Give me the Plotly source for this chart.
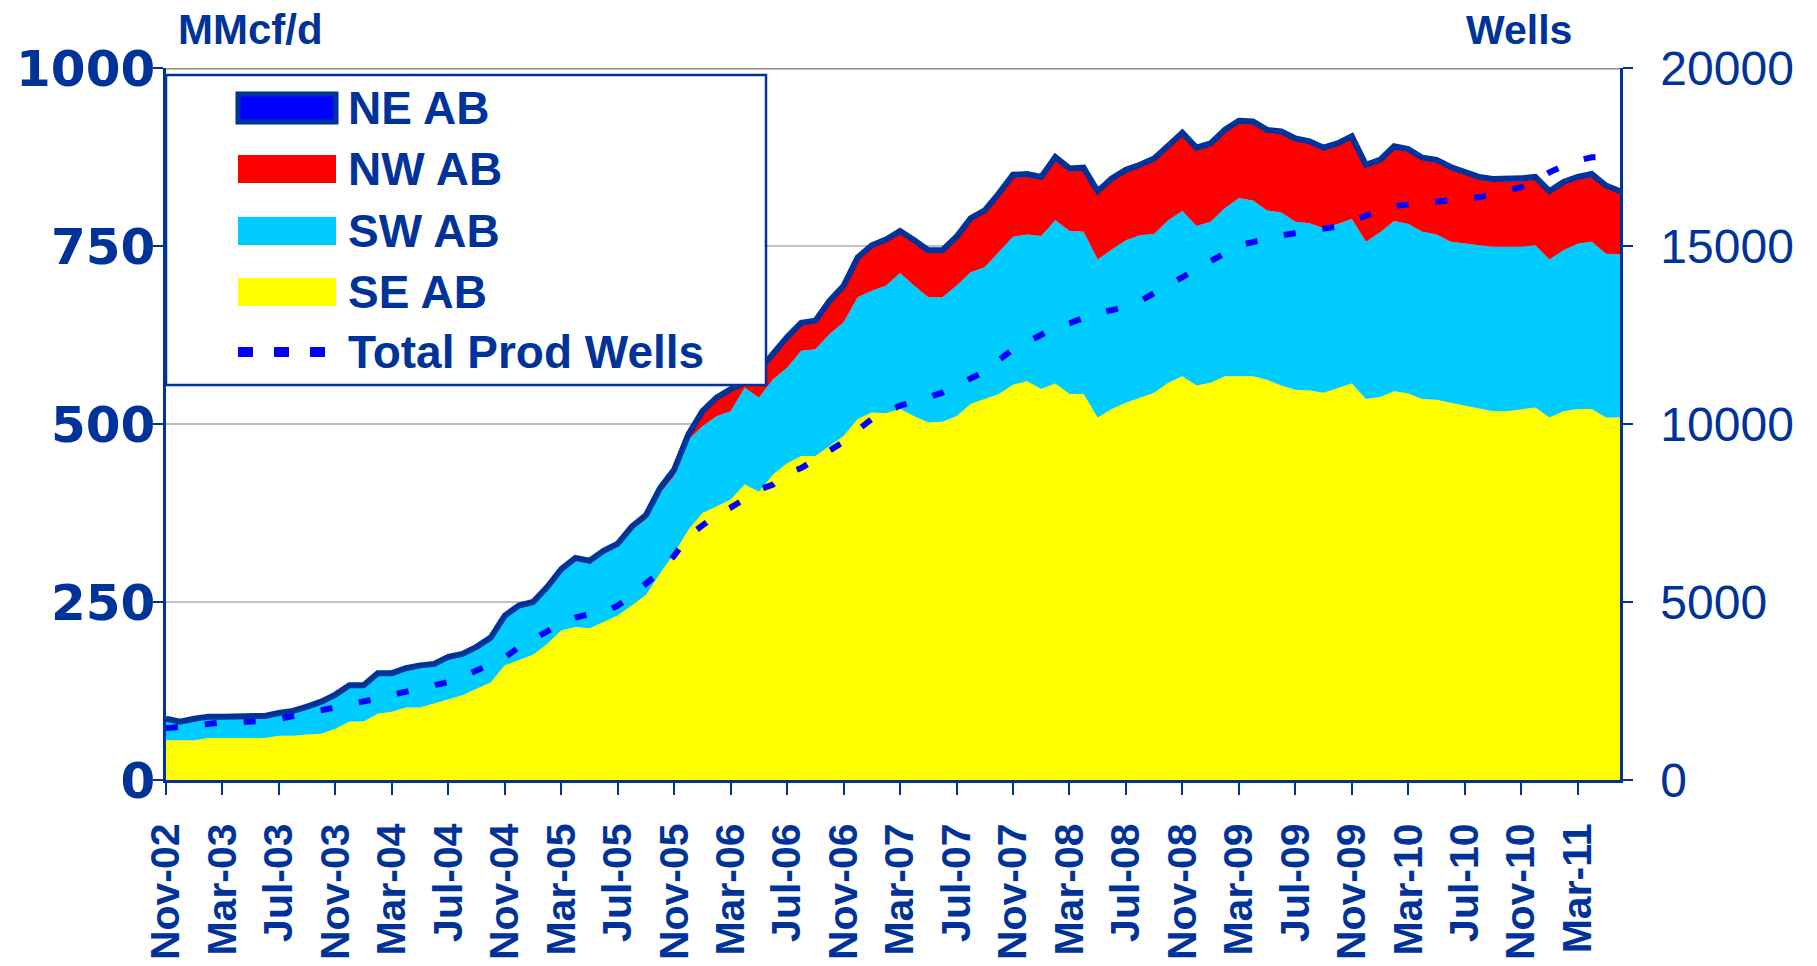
import pandas as pd
import plotly.graph_objects as go

# Monthly categories, Nov-2002 through Jun-2011
months = list(pd.period_range("2002-11", periods=104, freq="M").strftime("%b-%y"))
tick_labels = months[::4]

# Gas production by region, MMcf/d (stacked bottom to top: SE, SW, NW, NE)
se_ab = [56, 56, 56, 59, 59, 59, 59, 59, 62, 62,
         64, 65, 72, 82, 82, 93, 96, 102, 102, 108,
         114, 119, 128, 137, 161, 169, 176, 191, 210, 215,
         213, 222, 231, 245, 260, 290, 318, 351, 375, 384,
         394, 415, 405, 429, 445, 455, 455, 469, 483, 507,
         516, 515, 521, 511, 502, 503, 511, 528, 535, 542,
         555, 560, 549, 557, 542, 542, 509, 521, 530, 537,
         544, 558, 567, 554, 558, 567, 567, 567, 562, 554,
         548, 547, 544, 551, 557, 535, 538, 546, 543, 535,
         534, 530, 526, 521, 518, 518, 521, 523, 509, 518,
         521, 521, 509, 509]
sw_ab = [28, 24, 28, 28, 28, 28, 28, 29, 29, 32,
         36, 42, 45, 48, 48, 54, 51, 52, 56, 52,
         56, 55, 56, 60, 66, 72, 70, 76, 82, 93,
         91, 96, 97, 106, 106, 113, 109, 127, 122, 127,
         124, 136, 132, 134, 134, 148, 150, 157, 160, 171,
         171, 179, 191, 183, 176, 175, 183, 185, 185, 200,
         208, 206, 215, 229, 229, 228, 222, 224, 228, 228,
         223, 228, 232, 224, 226, 236, 250, 247, 238, 243,
         236, 235, 231, 230, 231, 221, 231, 239, 238, 235,
         232, 226, 227, 230, 231, 231, 228, 228, 222, 226,
         232, 235, 230, 229]
nw_ab = [0, 0, 0, 0, 0, 0, 0, 0, 1, 1,
         1, 1, 1, 1, 1, 1, 1, 1, 1, 1,
         1, 1, 1, 1, 1, 1, 1, 1, 1, 1,
         1, 1, 1, 2, 3, 4, 6, 4, 18, 23,
         28, 4, 35, 34, 40, 36, 37, 44, 48, 53,
         61, 62, 56, 61, 63, 63, 66, 73, 77, 79,
         83, 81, 79, 85, 84, 86, 92, 96, 95, 95,
         102, 101, 106, 106, 106, 106, 105, 107, 109, 110,
         113, 111, 109, 109, 112, 104, 98, 101, 101, 100,
         101, 101, 97, 92, 91, 91, 92, 92, 92, 92,
         90, 91, 92, 85]
ne_ab = [2, 2, 2, 2, 2, 2, 2, 2, 2, 2,
         2, 2, 2, 2, 2, 2, 2, 2, 2, 2,
         2, 2, 2, 2, 3, 3, 3, 3, 3, 3,
         3, 3, 3, 3, 3, 3, 3, 3, 3, 3,
         3, 3, 3, 3, 3, 3, 3, 3, 3, 3,
         3, 3, 3, 3, 3, 3, 3, 3, 3, 3,
         4, 4, 4, 4, 4, 4, 4, 4, 4, 4,
         4, 4, 4, 4, 4, 4, 4, 4, 4, 4,
         4, 4, 4, 4, 4, 4, 4, 4, 4, 4,
         4, 4, 4, 4, 4, 4, 4, 4, 4, 4,
         4, 4, 4, 4]

# Total producing wells (right axis)
total_wells = [1450, 1500, 1560, 1610, 1620, 1620, 1620, 1660, 1710, 1790,
               1870, 1930, 2030, 2110, 2190, 2290, 2390, 2490, 2570, 2650,
               2750, 2900, 3060, 3250, 3440, 3730, 3950, 4170, 4400, 4560,
               4660, 4700, 4900, 5180, 5500, 5850, 6300, 6850, 7150, 7450,
               7650, 7900, 8150, 8300, 8620, 8760, 9000, 9250, 9500, 9830,
               10140, 10330, 10520, 10620, 10760, 10880, 11080, 11280, 11480, 11800,
               12100, 12300, 12520, 12710, 12830, 12980, 13120, 13200, 13290, 13450,
               13680, 13900, 14130, 14350, 14590, 14820, 15020, 15110, 15210, 15300,
               15360, 15420, 15450, 15550, 15700, 15860, 16000, 16120, 16160, 16190,
               16220, 16260, 16320, 16370, 16460, 16560, 16650, 16840, 17070, 17250,
               17400, 17490, 17500, 17500]

# Axis ticks
left_ticks = [0, 250, 500, 750, 1000]
right_ticks = [0, 5000, 10000, 15000, 20000]

NAVY = "#003399"
FONT = "Liberation Sans"

fig = go.Figure()
for name, vals, color in [("SE AB", se_ab, "#FFFF00"),
                          ("SW AB", sw_ab, "#00CCFF"),
                          ("NW AB", nw_ab, "#FF0000")]:
    fig.add_trace(go.Scatter(x=months, y=vals, name=name, stackgroup="prod",
                             mode="lines", line=dict(width=0, color=color),
                             fillcolor=color, showlegend=False,
                             hoverinfo="skip"))
fig.add_trace(go.Scatter(x=months, y=ne_ab, name="NE AB", stackgroup="prod",
                         mode="lines", line=dict(width=6, color=NAVY),
                         fillcolor="#0000FF", showlegend=False))
fig.add_trace(go.Scatter(x=months, y=total_wells, name="Total Prod Wells",
                         yaxis="y2", mode="lines",
                         line=dict(width=6, color="#0000FF", dash="12px,27px"),
                         showlegend=False))

# Plot area geometry in pixels (used to place the hand-drawn legend)
W, H = 1817, 966
ML, MR, MT, MB = 166, 197, 68, 186
PW, PH = W - ML - MR, H - MT - MB


def px(x):
    return (x - ML) / PW


def py(y):
    return (H - MB - y) / PH


shapes = [
    # darker top border of the plot area
    dict(type="line", xref="paper", yref="y", x0=0, x1=1, y0=1000, y1=1000,
         line=dict(color="#8C8C8C", width=3), layer="above"),
    # legend frame
    dict(type="rect", xref="paper", yref="paper", x0=px(166), x1=px(766),
         y0=py(385), y1=py(75), fillcolor="white",
         line=dict(color=NAVY, width=2.5), layer="above"),
]

legend_rows = [
    ("NE AB", 108, "#0000FF", NAVY),
    ("NW AB", 169, "#FF0000", None),
    ("SW AB", 231, "#00CCFF", None),
    ("SE AB", 292, "#FFFF00", None),
]
legend_font = dict(family=FONT, size=46, color=NAVY, weight="bold")
annotations = []
for label, cy, fill, border in legend_rows:
    shapes.append(dict(type="rect", xref="paper", yref="paper",
                       x0=px(238), x1=px(336), y0=py(cy + 14), y1=py(cy - 14),
                       fillcolor=fill,
                       line=dict(color=border or fill, width=5 if border else 0),
                       layer="above"))
    annotations.append(dict(text=label, xref="paper", yref="paper",
                            x=px(346), y=py(cy), xanchor="left", yanchor="middle",
                            showarrow=False, font=legend_font))
shapes.append(dict(type="line", xref="paper", yref="paper",
                   x0=px(238), x1=px(326), y0=py(352), y1=py(352),
                   line=dict(color="#0000FF", width=10, dash="15px,21px"),
                   layer="above"))
annotations.append(dict(text="Total Prod Wells", xref="paper", yref="paper",
                        x=px(346), y=py(352), xanchor="left", yanchor="middle",
                        showarrow=False, font=legend_font))

# axis unit captions
annotations.append(dict(text="MMcf/d", xref="paper", yref="paper",
                        x=px(176), y=py(30), xanchor="left", yanchor="middle",
                        showarrow=False,
                        font=dict(family=FONT, size=42, color=NAVY, weight="bold")))
annotations.append(dict(text="Wells", xref="paper", yref="paper",
                        x=px(1574), y=py(30), xanchor="right", yanchor="middle",
                        showarrow=False,
                        font=dict(family=FONT, size=41, color=NAVY, weight="bold")))

fig.update_layout(
    width=W, height=H,
    margin=dict(l=ML, r=MR, t=MT, b=MB, autoexpand=False),
    paper_bgcolor="white", plot_bgcolor="white",
    showlegend=False,
    font=dict(family=FONT, color=NAVY),
    shapes=shapes, annotations=annotations,
    xaxis=dict(type="category", range=[0, len(months) - 1],
               tickmode="array", tickvals=tick_labels, ticktext=tick_labels,
               tickangle=-90, ticks="outside", ticklen=12, tickwidth=2,
               tickcolor=NAVY, showline=True, linecolor=NAVY, linewidth=3,
               showgrid=False, automargin=False, ticklabelstandoff=12,
               tickfont=dict(family=FONT, size=41, color=NAVY, weight="bold")),
    yaxis=dict(range=[0, 1000], tickmode="array", tickvals=left_ticks,
               ticktext=[str(v) for v in left_ticks],
               ticks="outside", ticklen=10, tickwidth=2, tickcolor=NAVY,
               showline=True, linecolor=NAVY, linewidth=2.5,
               showgrid=True, gridcolor="#C0C0C0", gridwidth=2,
               zeroline=False, automargin=False, ticklabelstandoff=-12,
               tickfont=dict(family="DejaVu Sans", size=50, color=NAVY,
                             weight="bold")),
    yaxis2=dict(range=[0, 20000], tickmode="array", tickvals=right_ticks,
                ticktext=[str(v) for v in right_ticks],
                overlaying="y", side="right",
                ticks="outside", ticklen=10, tickwidth=2, tickcolor=NAVY,
                showline=True, linecolor=NAVY, linewidth=2.5,
                showgrid=False, zeroline=False, automargin=False,
                ticklabelstandoff=18,
                tickfont=dict(family=FONT, size=48, color=NAVY)),
)

fig.write_html("out.html")
